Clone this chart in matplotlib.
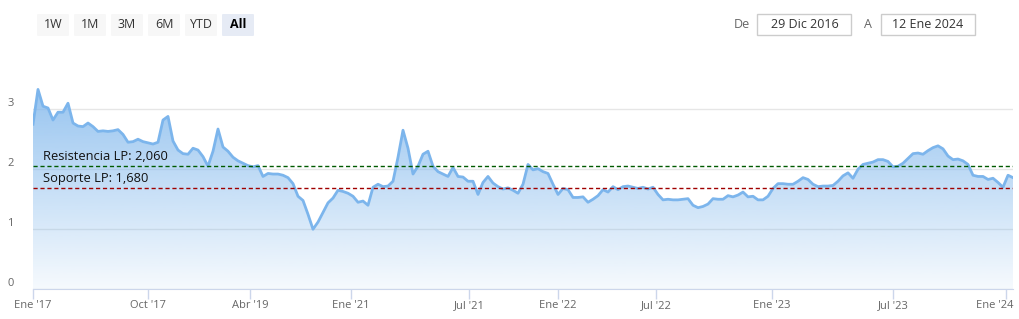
import numpy as np
import matplotlib
matplotlib.use("Agg")
import matplotlib.pyplot as plt
import matplotlib.transforms as mtransforms
from matplotlib.patches import Rectangle, FancyBboxPatch

# price series, one point per equal step on the (ordinal) time axis
values = [
    2.75, 3.33, 3.05, 3.02, 2.82, 2.95, 2.95, 3.10, 2.77, 2.72,
    2.71, 2.77, 2.71, 2.63, 2.64, 2.63, 2.64, 2.66, 2.58, 2.45,
    2.46, 2.50, 2.46, 2.44, 2.42, 2.45, 2.82, 2.88, 2.47, 2.32,
    2.26, 2.25, 2.35, 2.32, 2.21, 2.05, 2.30, 2.67, 2.37, 2.30,
    2.20, 2.14, 2.10, 2.06, 2.04, 2.06, 1.88, 1.93, 1.92, 1.92,
    1.90, 1.86, 1.76, 1.55, 1.48, 1.25, 1.00, 1.12, 1.28, 1.44,
    1.52, 1.65, 1.63, 1.60, 1.55, 1.45, 1.47, 1.40, 1.70, 1.75,
    1.71, 1.72, 1.80, 2.20, 2.65, 2.35, 1.92, 2.05, 2.25, 2.30,
    2.05, 1.96, 1.92, 1.88, 2.03, 1.88, 1.87, 1.80, 1.80, 1.58,
    1.78, 1.88, 1.77, 1.71, 1.67, 1.69, 1.65, 1.60, 1.75, 2.08,
    1.99, 2.01, 1.96, 1.93, 1.75, 1.58, 1.68, 1.66, 1.53, 1.53,
    1.54, 1.45, 1.50, 1.56, 1.66, 1.62, 1.71, 1.66, 1.71, 1.72,
    1.70, 1.68, 1.70, 1.67, 1.70, 1.58, 1.49, 1.50, 1.49, 1.49,
    1.50, 1.51, 1.40, 1.36, 1.38, 1.42, 1.51, 1.50, 1.50, 1.56,
    1.54, 1.57, 1.62, 1.54, 1.55, 1.49, 1.49, 1.55, 1.68, 1.76,
    1.76, 1.75, 1.75, 1.80, 1.86, 1.83, 1.75, 1.71, 1.72, 1.72,
    1.73, 1.80, 1.89, 1.94, 1.85, 2.00, 2.08, 2.10, 2.12, 2.16,
    2.16, 2.13, 2.04, 2.05, 2.10, 2.18, 2.26, 2.27, 2.25, 2.31,
    2.36, 2.39, 2.34, 2.22, 2.16, 2.17, 2.14, 2.08, 1.90, 1.88,
    1.88, 1.83, 1.85, 1.78, 1.70, 1.90, 1.86,
]
tick_pos = [0, 23, 43.4, 63.6, 87.2, 105, 124.6, 147.8, 172, 194.6]
tick_labels = ["Ene '17", "Oct '17", "Abr '19", "Ene '21", "Jul '21",
               "Ene '22", "Jul '22", "Ene '23", "Jul '23", "Ene '24"]
resistencia = 2.06
soporte = 1.68
buttons = ["1W", "1M", "3M", "6M", "YTD", "All"]
fecha_de = "29 Dic 2016"
fecha_a = "12 Ene 2024"

W, H = 1020, 319
fig = plt.figure(figsize=(W / 100, H / 100), dpi=100)
plt.rcParams['font.family'] = ['Open Sans', 'DejaVu Sans']

ax = fig.add_axes([33 / W, (H - 289.3) / H, 980 / W, (289.3 - 60) / H])
x = np.arange(len(values))
ymax = 3.82
ax.set_xlim(0, len(values) - 1)
ax.set_ylim(0, ymax)

# gradient area fill clipped to the series
poly = ax.fill_between(x, values, 0, color='none', lw=0)
grad = np.zeros((256, 1, 4))
grad[:, 0, 0] = 124 / 255
grad[:, 0, 1] = 181 / 255
grad[:, 0, 2] = 236 / 255
grad[:, 0, 3] = np.linspace(0.9, 0.07, 256)
img = ax.imshow(grad, aspect='auto', extent=[0, len(values) - 1, 0, ymax],
                origin='upper', zorder=2)
img.set_clip_path(poly.get_paths()[0], transform=ax.transData)
ax.plot(x, values, color='#7cb5ec', lw=2, zorder=3)

# support / resistance
ax.axhline(resistencia, color='#005a00', lw=1, ls=(0, (3, 2)), zorder=4)
ax.axhline(soporte, color='#a00000', lw=1, ls=(0, (3, 2)), zorder=4)
ax.text(2, resistencia + 0.05, "Resistencia LP: 2,060", fontsize=9.3,
        color='#111111', va='bottom', zorder=5)
ax.text(2, soporte + 0.05, "Soporte LP: 1,680", fontsize=9.3,
        color='#111111', va='bottom', zorder=5)

# axes styling
ax.set_yticks([0, 1, 2, 3])
ax.set_yticklabels(["0", "1", "2", "3"], va='bottom')
ax.yaxis.grid(True, color='#e6e6e6', lw=1)
ax.set_axisbelow(True)
ax.tick_params(axis='y', length=0, pad=14, labelsize=8, labelcolor='#666666')
ax.set_xticks(tick_pos)
ax.set_xticklabels(tick_labels)
ax.tick_params(axis='x', length=7, width=1, color='#ccd6eb', pad=1,
               labelsize=8, labelcolor='#666666')
for s in ['top', 'right', 'left']:
    ax.spines[s].set_visible(False)
ax.spines['bottom'].set_color('#ccd6eb')

# last label is pushed left so it stays inside the chart
last = ax.get_xticklabels()[-1]
last.set_horizontalalignment('right')
last.set_transform(last.get_transform() + mtransforms.ScaledTranslation(8 / 100, 0, fig.dpi_scale_trans))


def px_box(x0, y0, w, h, fc, ec='none'):
    fig.patches.append(FancyBboxPatch((x0 / W, 1 - (y0 + h) / H), w / W, h / H,
                                      boxstyle="round,pad=0,rounding_size=0.002",
                                      fc=fc, ec=ec, lw=1, transform=fig.transFigure))


# range selector buttons
for i, b in enumerate(buttons):
    bx = 37 + i * 37
    sel = b == "All"
    px_box(bx, 14, 32, 22, '#e6ebf5' if sel else '#f7f7f7')
    fig.text((bx + 16) / W, 1 - 25 / H, b, ha='center', va='center', fontsize=9,
             color='#000000' if sel else '#333333',
             fontweight='bold' if sel else 'normal')

# date inputs
fig.text(742 / W, 1 - 24 / H, "De", ha='center', va='center', fontsize=9, color='#666666')
fig.text(868 / W, 1 - 24 / H, "A", ha='center', va='center', fontsize=9, color='#666666')
fig.patches.append(Rectangle((757.5 / W, 1 - 35 / H), 94 / W, 21 / H, fc='white',
                             ec='#cccccc', lw=1, transform=fig.transFigure))
fig.patches.append(Rectangle((880.5 / W, 1 - 35 / H), 94 / W, 21 / H, fc='white',
                             ec='#cccccc', lw=1, transform=fig.transFigure))
fig.text(804.5 / W, 1 - 24 / H, fecha_de, ha='center', va='center', fontsize=9, color='#333333')
fig.text(927.5 / W, 1 - 24 / H, fecha_a, ha='center', va='center', fontsize=9, color='#333333')

fig.savefig("out.png", dpi=100)
